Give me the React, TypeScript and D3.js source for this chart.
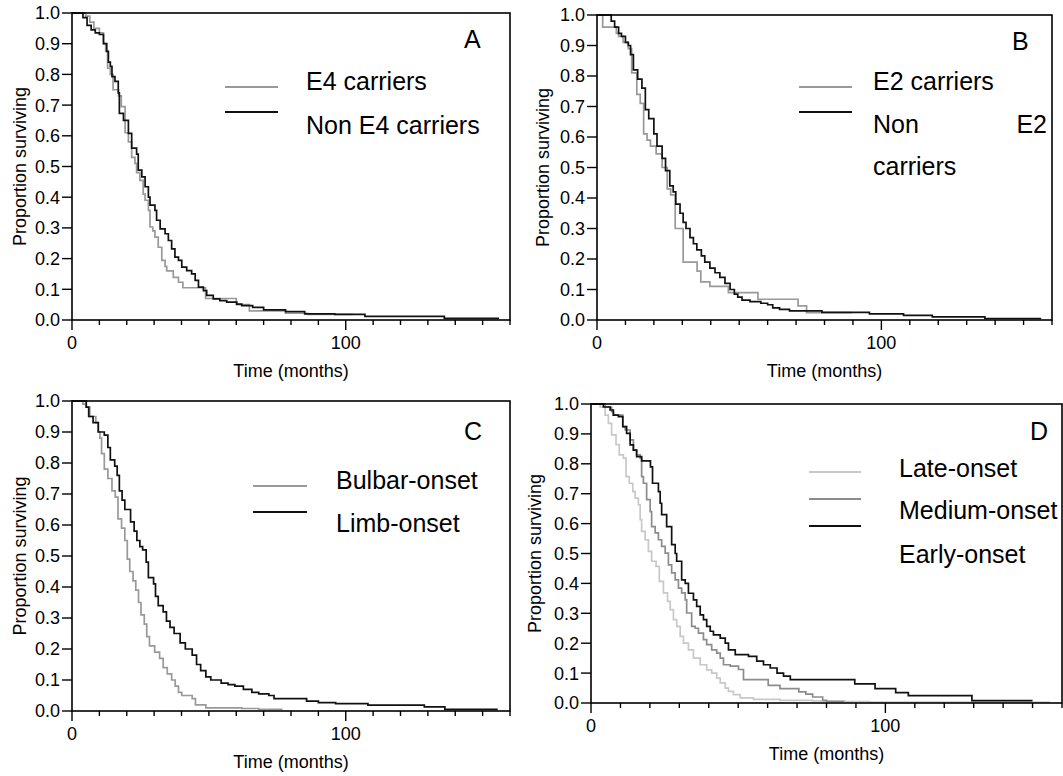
import React from "react";
import * as d3 from "d3";

const W = 1063;
const H = 776;
const FONT = "'Liberation Sans', Arial, Helvetica, sans-serif";

type Pt = [number, number]; // [months, proportion surviving]

// ---- data: step points [time, survival after time] ----

// A: APOE E4
const e4Carriers: Pt[] = [
  [0, 1], [5, 0.99], [6.5, 0.97], [8, 0.95], [10, 0.935], [11.5, 0.9], [12.3, 0.875],
  [13, 0.82], [14, 0.8], [15, 0.75], [17, 0.73], [18, 0.695], [19.4, 0.61], [20.6, 0.58],
  [21.8, 0.53], [23, 0.51], [23.6, 0.48], [24.8, 0.455], [26, 0.41], [26.7, 0.39],
  [27.9, 0.357], [28.5, 0.303], [29.5, 0.29], [30.3, 0.27], [31.5, 0.237], [32.8, 0.194],
  [34, 0.175], [34.6, 0.16], [37, 0.139], [38.9, 0.123], [40.5, 0.105], [48.8, 0.07],
  [60, 0.05], [64.8, 0.03], [78, 0.022], [86, 0.018], [102.5, 0.018],
];
const nonE4Carriers: Pt[] = [
  [0, 1], [4, 0.985], [5.5, 0.96], [7, 0.945], [8.5, 0.935], [10, 0.93], [11.5, 0.9],
  [12.7, 0.875], [13.3, 0.84], [14, 0.826], [14.6, 0.793], [15.7, 0.777], [16.9, 0.74],
  [17.3, 0.673], [18.8, 0.65], [20.6, 0.608], [21.8, 0.56], [23.6, 0.54], [24.2, 0.488],
  [25.5, 0.466], [26.7, 0.434], [27.9, 0.4], [28.5, 0.374], [30.3, 0.357], [30.9, 0.325],
  [32.2, 0.297], [34, 0.281], [35.2, 0.259], [36.4, 0.232], [37.6, 0.205], [38.9, 0.194],
  [40.1, 0.172], [41.9, 0.161], [43.7, 0.15], [45, 0.129], [46.2, 0.107], [48, 0.096],
  [49.2, 0.08], [51.6, 0.069], [54, 0.063], [56.5, 0.058], [60.2, 0.052], [62, 0.047],
  [66, 0.041], [70, 0.033], [78, 0.027], [85, 0.02], [96, 0.018], [107, 0.012],
  [136, 0.005], [156, 0.005],
];

// B: APOE E2
const e2Carriers: Pt[] = [
  [0, 1], [2, 0.96], [6.8, 0.94], [7.6, 0.93], [9.2, 0.91], [11, 0.89], [12.2, 0.81],
  [14, 0.74], [15.2, 0.71], [16.4, 0.61], [17.6, 0.59], [18.8, 0.57], [20.8, 0.545],
  [22.9, 0.5], [24.7, 0.43], [25.9, 0.41], [27.5, 0.3], [30.3, 0.19], [35.2, 0.16],
  [36.5, 0.125], [39.7, 0.11], [46.2, 0.09], [56.6, 0.068], [70.7, 0.046], [73.7, 0.024],
  [89.6, 0.024],
];
const nonE2Carriers: Pt[] = [
  [0, 1], [5, 0.98], [6.2, 0.96], [7.6, 0.94], [8.6, 0.93], [10, 0.91], [11, 0.9],
  [11.8, 0.87], [12.8, 0.82], [14.3, 0.79], [15.8, 0.76], [17, 0.69], [18.2, 0.66],
  [20, 0.61], [21.1, 0.57], [22.9, 0.53], [24.1, 0.49], [25.6, 0.44], [26.8, 0.42],
  [27.7, 0.38], [29.2, 0.35], [30.3, 0.32], [31.3, 0.3], [32.7, 0.27], [33.9, 0.25],
  [35.1, 0.23], [36.7, 0.21], [37.9, 0.19], [39.7, 0.17], [41.5, 0.155], [43.2, 0.14],
  [45, 0.12], [46.8, 0.1], [48.3, 0.085], [49.5, 0.075], [51, 0.065], [53.8, 0.06],
  [57.6, 0.055], [60, 0.05], [61.8, 0.04], [64.2, 0.035], [67.7, 0.03], [79.1, 0.025],
  [95.8, 0.02], [107.8, 0.015], [117.9, 0.01], [136.4, 0.005], [156.2, 0.005],
];

// C: site of onset
const bulbarOnset: Pt[] = [
  [0, 1], [4, 0.99], [5.2, 0.98], [6.5, 0.95], [8.7, 0.93], [9.6, 0.9], [10.2, 0.88],
  [10.8, 0.83], [11.8, 0.78], [13.1, 0.75], [14.6, 0.71], [15.8, 0.69], [16.8, 0.62],
  [18.1, 0.59], [19.3, 0.55], [20.2, 0.49], [21.1, 0.45], [22.3, 0.42], [23.3, 0.39],
  [24.3, 0.35], [25.2, 0.31], [26.4, 0.28], [27.3, 0.24], [28.3, 0.21], [30.2, 0.19],
  [32, 0.17], [33.3, 0.14], [34.8, 0.12], [36.4, 0.1], [37.7, 0.08], [38.9, 0.06],
  [40.1, 0.05], [43.9, 0.04], [45.1, 0.02], [48.9, 0.01], [62, 0.008], [68.2, 0.005],
  [76.9, 0.005],
];
const limbOnset: Pt[] = [
  [0, 1], [5.2, 0.98], [6.1, 0.95], [7.7, 0.93], [9.6, 0.9], [11.8, 0.89], [13.1, 0.85],
  [14, 0.81], [15.6, 0.79], [16.5, 0.76], [17.3, 0.71], [18.3, 0.68], [19.3, 0.65],
  [21.4, 0.61], [22.7, 0.58], [23.7, 0.55], [24.8, 0.53], [25.8, 0.52], [27.1, 0.48],
  [27.9, 0.43], [29.8, 0.41], [30.5, 0.37], [31.5, 0.34], [33.3, 0.32], [34.5, 0.29],
  [35.8, 0.27], [37.3, 0.25], [39.5, 0.22], [41.4, 0.2], [43.9, 0.18], [45.5, 0.15],
  [47, 0.13], [48.9, 0.11], [50.7, 0.1], [54.5, 0.09], [57, 0.085], [59.5, 0.08],
  [62.6, 0.07], [65.7, 0.06], [68.2, 0.055], [71.9, 0.05], [73.8, 0.04], [85.7, 0.032],
  [90, 0.027], [96.3, 0.024], [108.1, 0.019], [128.7, 0.013], [136.2, 0.005],
  [155.5, 0.005],
];

// D: age of onset
const lateOnset: Pt[] = [
  [0, 1], [3.1, 0.99], [4.8, 0.963], [5.9, 0.935], [7, 0.897], [8.5, 0.864], [9.6, 0.83],
  [11, 0.819], [11.9, 0.757], [13, 0.735], [14.2, 0.707], [15, 0.685], [16.1, 0.663],
  [16.7, 0.613], [17.2, 0.574], [18.4, 0.546], [19.5, 0.507], [20.6, 0.474], [22.1, 0.457],
  [23.2, 0.407], [24.6, 0.368], [26, 0.34], [26.9, 0.312], [28, 0.279], [29.1, 0.256],
  [30.3, 0.223], [31.4, 0.2], [33.1, 0.178], [34.8, 0.15], [37.1, 0.128], [39.3, 0.111],
  [41, 0.1], [42.7, 0.083], [43.9, 0.067], [45.6, 0.05], [46.7, 0.039], [48.4, 0.028],
  [50.7, 0.017], [55.2, 0.012], [64.2, 0.009], [75.2, 0.007], [86.2, 0.005],
  [94.8, 0.003], [155.9, 0.003],
];
const mediumOnset: Pt[] = [
  [0, 1], [4.8, 0.99], [7, 0.974], [7.6, 0.963], [10.8, 0.924], [11.6, 0.913],
  [13.3, 0.88], [14.4, 0.846], [15.5, 0.83], [16.7, 0.819], [17.2, 0.757], [17.8, 0.735],
  [18.9, 0.68], [20.1, 0.64], [20.6, 0.59], [21.8, 0.569], [22.9, 0.546], [24, 0.524],
  [25.2, 0.501], [26.3, 0.462], [27.4, 0.435], [28.6, 0.412], [29.7, 0.384], [30.8, 0.368],
  [32, 0.345], [32.5, 0.301], [34.2, 0.256], [35.4, 0.25], [36.5, 0.234], [38.2, 0.212],
  [39.3, 0.195], [41, 0.178], [42.7, 0.167], [43.9, 0.15], [45, 0.128], [47.3, 0.123],
  [50.1, 0.112], [51.8, 0.078], [60.2, 0.059], [64.2, 0.048], [70.6, 0.037], [73, 0.03],
  [75.3, 0.02], [78.7, 0.009], [80, 0.005], [86, 0.005],
];
const earlyOnset: Pt[] = [
  [0, 1], [4.2, 0.99], [6.5, 0.98], [7.6, 0.963], [9.3, 0.958], [10.8, 0.924],
  [12.1, 0.902], [13.3, 0.863], [14.4, 0.846], [15.5, 0.824], [17.2, 0.81], [20.2, 0.79],
  [20.9, 0.735], [22.9, 0.707], [23.5, 0.668], [24, 0.63], [25.7, 0.59], [27.4, 0.53],
  [28.6, 0.5], [29.1, 0.474], [30.8, 0.412], [32, 0.4], [33.1, 0.367], [34.8, 0.345],
  [35.9, 0.323], [37.1, 0.295], [38.2, 0.279], [39.3, 0.256], [40.5, 0.24], [41.6, 0.228],
  [43.9, 0.217], [45.6, 0.2], [46.7, 0.178], [49, 0.162], [53.5, 0.156], [56.3, 0.14],
  [58.6, 0.128], [60.9, 0.117], [63.2, 0.1], [65.4, 0.09], [67.7, 0.078], [89.6, 0.064],
  [96.5, 0.048], [103.5, 0.035], [107.8, 0.025], [129.4, 0.008], [150, 0.008],
];

const xDomain: [number, number] = [0, 160];
const xTickValues = d3.range(0, 161, 10);
const xTickLabels = [0, 100];
const yTickValues = d3.range(0, 11).map((i) => i / 10);

// ---- layout ----

const LIGHT = "#c8c8c8";
const MID = "#8c8c8c";
const DARK = "#111111";

interface LegendRow { text: string; x: number; y: number; anchor?: string }
interface PanelSpec {
  letter: string;
  letterX: number;
  letterY: number;
  left: number; right: number; top: number; bottom: number;
  yLabelX: number;
  series: { data: Pt[]; color: string }[];
  legendX: [number, number];
  legendLines: { y: number; color: string }[];
  legendText: LegendRow[];
}

const panels: PanelSpec[] = [
  {
    letter: "A", letterX: 464, letterY: 48,
    left: 72, right: 510, top: 13, bottom: 320, yLabelX: 26,
    series: [{ data: e4Carriers, color: "#999999" }, { data: nonE4Carriers, color: DARK }],
    legendX: [225, 278],
    legendLines: [{ y: 87, color: "#999999" }, { y: 112, color: DARK }],
    legendText: [
      { text: "E4 carriers", x: 306, y: 90 },
      { text: "Non E4 carriers", x: 306, y: 134 },
    ],
  },
  {
    letter: "B", letterX: 1012, letterY: 50,
    left: 597, right: 1052, top: 15, bottom: 320, yLabelX: 549,
    series: [{ data: e2Carriers, color: "#999999" }, { data: nonE2Carriers, color: DARK }],
    legendX: [799, 852],
    legendLines: [{ y: 87, color: "#999999" }, { y: 112, color: DARK }],
    legendText: [
      { text: "E2 carriers", x: 873, y: 90 },
      { text: "Non", x: 873, y: 133 },
      { text: "E2", x: 1047, y: 133, anchor: "end" },
      { text: "carriers", x: 873, y: 175 },
    ],
  },
  {
    letter: "C", letterX: 464, letterY: 440,
    left: 72, right: 510, top: 401, bottom: 711, yLabelX: 26,
    series: [{ data: bulbarOnset, color: "#999999" }, { data: limbOnset, color: DARK }],
    legendX: [253, 307],
    legendLines: [{ y: 486, color: "#999999" }, { y: 512, color: DARK }],
    legendText: [
      { text: "Bulbar-onset", x: 336, y: 489 },
      { text: "Limb-onset", x: 336, y: 532 },
    ],
  },
  {
    letter: "D", letterX: 1030, letterY: 440,
    left: 591, right: 1062, top: 404, bottom: 703, yLabelX: 541,
    series: [
      { data: lateOnset, color: LIGHT },
      { data: mediumOnset, color: MID },
      { data: earlyOnset, color: DARK },
    ],
    legendX: [809, 861],
    legendLines: [
      { y: 472, color: LIGHT },
      { y: 499, color: MID },
      { y: 526, color: DARK },
    ],
    legendText: [
      { text: "Late-onset", x: 899, y: 477 },
      { text: "Medium-onset", x: 899, y: 519 },
      { text: "Early-onset", x: 899, y: 563 },
    ],
  },
];

function Panel({ p }: { p: PanelSpec }) {
  const x = d3.scaleLinear().domain(xDomain).range([p.left, p.right]);
  const y = d3.scaleLinear().domain([0, 1]).range([p.bottom, p.top]);
  const line = d3
    .line<Pt>()
    .x((d) => x(d[0]))
    .y((d) => y(d[1]))
    .curve(d3.curveStepAfter);
  const fmt = d3.format(".1f");
  const midX = (p.left + p.right) / 2;
  const midY = (p.top + p.bottom) / 2;

  return (
    <g>
      {p.series.map((s, i) => (
        <path key={i} d={line(s.data) || ""} fill="none" stroke={s.color} strokeWidth={1.7} />
      ))}

      <rect
        x={p.left} y={p.top} width={p.right - p.left} height={p.bottom - p.top}
        fill="none" stroke="#000" strokeWidth={1.6}
      />

      {yTickValues.map((v) => (
        <g key={v}>
          <line x1={p.left - 10} x2={p.left} y1={y(v)} y2={y(v)} stroke="#000" strokeWidth={1.4} />
          <text x={p.left - 12} y={y(v)} dy="0.36em" textAnchor="end" fontSize={18} fontFamily={FONT}>
            {fmt(v)}
          </text>
        </g>
      ))}

      {xTickValues.map((v) => {
        const major = xTickLabels.includes(v);
        return (
          <line key={v} x1={x(v)} x2={x(v)} y1={p.bottom} y2={p.bottom + (major ? 10 : 5)}
            stroke="#000" strokeWidth={1.4} />
        );
      })}
      {xTickLabels.map((v) => (
        <text key={v} x={x(v)} y={p.bottom + 29} textAnchor="middle" fontSize={18} fontFamily={FONT}>
          {v}
        </text>
      ))}

      <text x={midX} y={p.bottom + 57} textAnchor="middle" fontSize={18} fontFamily={FONT}>
        Time (months)
      </text>
      <text
        transform={`translate(${p.yLabelX},${midY}) rotate(-90)`}
        textAnchor="middle" fontSize={18} fontFamily={FONT}
      >
        Proportion surviving
      </text>

      <text x={p.letterX} y={p.letterY} fontSize={25} fontFamily={FONT}>{p.letter}</text>

      {p.legendLines.map((l, i) => (
        <line key={i} x1={p.legendX[0]} x2={p.legendX[1]} y1={l.y} y2={l.y} stroke={l.color} strokeWidth={2} />
      ))}
      {p.legendText.map((t, i) => (
        <text key={i} x={t.x} y={t.y} textAnchor={t.anchor || "start"} fontSize={25} fontFamily={FONT}>
          {t.text}
        </text>
      ))}
    </g>
  );
}

export default function App() {
  return (
    <svg
      width={W}
      height={H}
      viewBox={`0 0 ${W} ${H}`}
      style={{ position: "absolute", left: 0, top: 0, background: "#fff" }}
    >
      <rect width={W} height={H} fill="#fff" />
      {panels.map((p) => (
        <Panel key={p.letter} p={p} />
      ))}
    </svg>
  );
}
